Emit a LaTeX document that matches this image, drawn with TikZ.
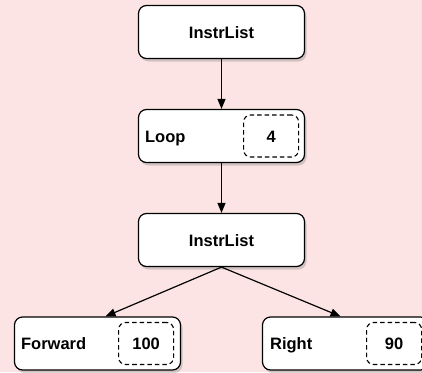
\documentclass[tikz,border=0pt]{standalone}
\usepackage{fontspec}
\setmainfont{Liberation Sans}
\usetikzlibrary{arrows.meta,positioning,shadows}
\definecolor{bgpink}{RGB}{253,228,228}

\tikzset{box/.style={draw=black,fill=white,line width=1.2pt,rounded corners=8pt,
    minimum width=166pt,minimum height=53pt,
    drop shadow={opacity=0.35,shadow xshift=2pt,shadow yshift=-3pt}},
  slot/.style={draw=black,dashed,dash pattern=on 4.5pt off 3pt,line width=1.1pt,
    rounded corners=7pt,minimum width=55pt,minimum height=42pt,inner sep=0pt},
  lbl/.style={font=\bfseries\fontsize{16.5}{18}\selectfont,inner sep=0pt,
    text height=12pt,text depth=0pt}}

\begin{document}
\begin{tikzpicture}[x=1pt,y=-1pt,>={Triangle[length=10pt,width=8pt]},node distance=104pt,on grid]
  \fill[bgpink] (0,0) rectangle (422,372);
  \useasboundingbox (0,0) rectangle (422,372);

  \node[box]          (top)  at (221.5,32)              {};
  \node[lbl] at (top) {InstrList};
  \node[box]          (loop) [below =of top]            {};
  \node[box]          (mid)  [below =of loop]           {};
  \node[lbl] at (mid) {InstrList};
  \node[box]          (fwd)  [below left =103.5pt and 124pt of mid]  {};
  \node[box]          (rgt)  [below right =103.5pt and 124pt of mid] {};

  % labels and value slots
  \node[lbl,anchor=west] (looplbl) at ([xshift=7pt]loop.west) {Loop};
  \node[slot,lbl,draw] (loopval) at ([xshift=-34pt]loop.east) {4};
  \node[lbl,anchor=west] (fwdlbl) at ([xshift=7pt]fwd.west) {Forward};
  \node[slot,lbl,draw] (fwdval) at ([xshift=-35pt]fwd.east) {100};
  \node[lbl,anchor=west] (rgtlbl) at ([xshift=8pt]rgt.west) {Right};
  \node[slot,lbl,draw] (rgtval) at ([xshift=-35pt]rgt.east) {90};

  \draw[->,line width=1.2pt] (top) -- (loop);
  \draw[->,line width=1.2pt] (loop) -- (mid);
  \draw[->,line width=1.2pt] (mid.south) -- ([xshift=8pt]fwd.north);
  \draw[->,line width=1.2pt] (mid.south) -- ([xshift=-5pt]rgt.north);
\end{tikzpicture}
\end{document}
